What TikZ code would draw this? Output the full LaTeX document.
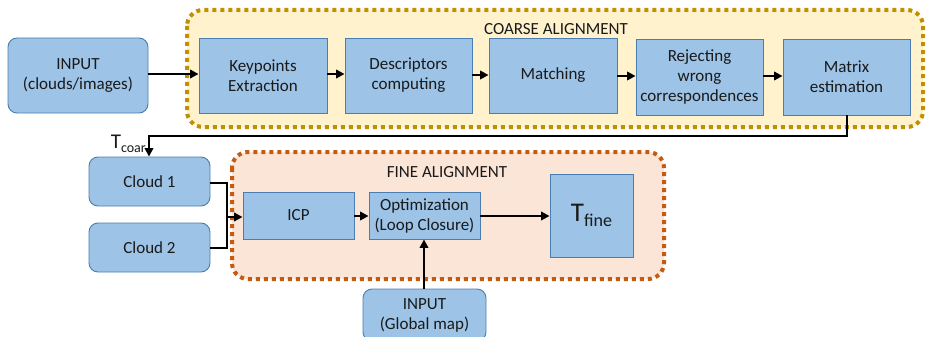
\documentclass[tikz,border=0pt]{standalone}
\usepackage{fontspec}
\setmainfont{Carlito}
\usetikzlibrary{arrows.meta}
\definecolor{boxfill}{HTML}{9DC3E6}
\definecolor{boxdraw}{HTML}{4A7EB0}
\definecolor{coarsefill}{HTML}{FFF2CC}
\definecolor{coarsedraw}{HTML}{BF9000}
\definecolor{finefill}{HTML}{FBE5D6}
\definecolor{finedraw}{HTML}{C55A11}
\definecolor{txt}{HTML}{1A1A1A}
\tikzset{
  x=1pt, y=-1pt,
  procbox/.style={draw=boxdraw, fill=boxfill, line width=0.9pt, text=txt, align=center,
     font=\fontsize{17}{20}\selectfont, inner sep=0pt},
  roundbox/.style={procbox, rounded corners=9pt},
  container/.style={line width=4pt, dash pattern=on 4pt off 4pt, rounded corners=16pt},
  conn/.style={line width=2.8pt, -{Triangle[length=8.5pt,width=8.5pt]}},
  plainconn/.style={line width=2.8pt},
  lbl/.style={text=txt, font=\fontsize{17}{20}\selectfont, inner sep=0pt}
}
\newcommand{\boxat}[6]{\node[#1, minimum width={(#4)-(#2)}, minimum height={(#5)-(#3)}] (#6) at ({((#2)+(#4))/2},{((#3)+(#5))/2})}
\begin{document}
\begin{tikzpicture}
\useasboundingbox (0,0) rectangle (929,337);
% containers
\draw[container, draw=coarsedraw, fill=coarsefill] (187,10) rectangle (923,127);
\draw[container, draw=finedraw, fill=finefill] (232,152) rectangle (664,279);
\node[lbl] (coarselbl) at (556,29) {COARSE ALIGNMENT};
\node[lbl] (finelbl) at (447,172) {FINE ALIGNMENT};
% top row
\boxat{roundbox}{8}{38}{148}{113}{input} {INPUT\\(clouds/images)};
\boxat{procbox}{199}{38}{327}{113}{kp} {Keypoints\\Extraction};
\boxat{procbox}{345}{38}{472}{113}{desc} {Descriptors\\computing};
\boxat{procbox}{489}{38}{617}{113}{match} {Matching};
\boxat{procbox}{636}{39}{763}{115}{rej} {Rejecting\\wrong\\correspondences};
\boxat{procbox}{783}{39}{910}{115}{mat} {Matrix\\estimation};
% bottom
\boxat{roundbox}{89}{157}{210}{206}{c1} {Cloud 1};
\boxat{roundbox}{89}{223}{210}{272}{c2} {Cloud 2};
\boxat{procbox}{243}{192}{354}{239}{icp} {ICP};
\boxat{procbox}{369}{192}{480}{239}{opt} {Optimization\\(Loop Closure)};
\boxat{procbox}{550}{174}{633}{257}{tfine} {\fontsize{27}{27}\selectfont T\raisebox{-5pt}{\fontsize{18}{18}\selectfont fine}};
\boxat{roundbox}{363}{289}{486}{341}{gm} {INPUT\\(Global map)};
% connectors
\draw[conn] (input.east |- 0,74) -- (kp.west |- 0,74);
\draw[conn] (kp.east |- 0,74) -- (desc.west |- 0,74);
\draw[conn] (desc.east |- 0,75) -- (match.west |- 0,75);
\draw[conn] (match.east |- 0,76) -- (rej.west |- 0,76);
\draw[conn] (rej.east |- 0,76) -- (mat.west |- 0,76);
\coordinate (j1) at (847,136);
\coordinate (j2) at (149,136);
\draw[conn] (mat.south -| j1) -- (j1) -- (j2) -- (c1.north -| j2);
\node[lbl, anchor=south east] (tcoar) at (146,153) {\fontsize{21}{21}\selectfont T\raisebox{-4pt}{\fontsize{14}{14}\selectfont coar}};
\coordinate (jm) at (227,217);
\draw[plainconn] (c1.east |- 0,183) -- (227,183) -- (jm);
\draw[plainconn] (c2.east |- 0,248) -- (227,248) -- (jm);
\draw[conn] (jm) -- (icp.west |- jm);
\draw[conn] (icp.east |- 0,216) -- (opt.west |- 0,216);
\draw[conn] (opt.east |- 0,216) -- (tfine.west |- 0,216);
\draw[conn] (gm.north -| 424,0) -- (opt.south -| 424,0);
\end{tikzpicture}
\end{document}
